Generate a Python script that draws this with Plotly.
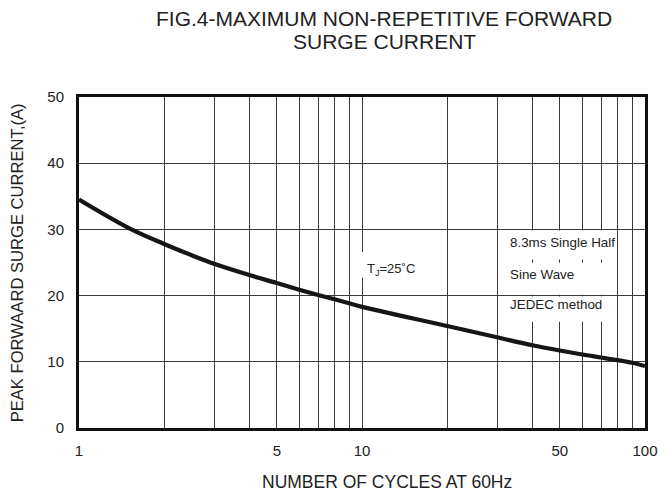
import plotly.graph_objects as go

# Data
cycles = [1, 1.5, 2, 2.5, 3, 4, 5, 6, 7, 8, 9, 10, 20, 30, 40, 50, 60, 70, 80, 90, 100]
surge_current = [34.5, 30.2, 27.8, 26.1, 24.8, 23.1, 21.9, 20.9, 20.1, 19.45, 18.85, 18.3,
                 15.4, 13.7, 12.5, 11.7, 11.1, 10.65, 10.25, 9.85, 9.35]

x_grid_vals = [1, 2, 3, 4, 5, 6, 7, 8, 9, 10, 20, 30, 40, 50, 60, 70, 80, 90, 100]
x_tick_text = ["1", "", "", "", "5", "", "", "", "", "10", "", "", "", "50", "", "", "", "", "100"]
y_tick_vals = [0, 10, 20, 30, 40, 50]
title_lines = ["FIG.4-MAXIMUM NON-REPETITIVE FORWARD", "SURGE CURRENT"]

FONT = "Liberation Sans, Arial, sans-serif"
INK = "#222222"
GRID = "#3a3a3a"

fig = go.Figure()
fig.add_trace(go.Scatter(
    x=cycles, y=surge_current, mode="lines",
    line=dict(color="#151515", width=4.2, shape="spline", smoothing=1.0),
    hoverinfo="skip", showlegend=False,
))

# white label backgrounds that interrupt the grid
boxes = [
    (31, 79, 25.45, 29.85),
    (31, 79, 20.12, 24.95),
    (31, 79, 16.05, 19.88),
    (9.6, 12.5, 22.7, 26.6),
]
for x0, x1, y0, y1 in boxes:
    fig.add_shape(type="rect", xref="x", yref="y", x0=x0, x1=x1, y0=y0, y1=y1,
                  fillcolor="white", line=dict(width=0), layer="between")

ann_font = dict(family=FONT, size=13, color=INK)
fig.add_annotation(x=1.011, y=23.9, xref="x", yref="y", text="T<sub>J</sub>=25˚C",
                   showarrow=False, xanchor="left", yanchor="middle", font=ann_font)
for txt, yy in [("8.3ms Single Half", 28.0), ("Sine Wave", 23.15), ("JEDEC method", 18.6)]:
    fig.add_annotation(x=1.516, y=yy, xref="x", yref="y", text=txt, showarrow=False,
                       xanchor="left", yanchor="middle", font=dict(family=FONT, size=13.4, color=INK))

# chart title (two lines)
for txt, shift in zip(title_lines, [79, 56]):
    fig.add_annotation(x=0.539, y=1, xref="paper", yref="paper", yshift=shift,
                       text=txt, showarrow=False, xanchor="center", yanchor="middle",
                       borderpad=0, font=dict(family=FONT, size=21, color=INK))

# axis titles
fig.add_annotation(x=-0.108, y=0.5, xref="paper", yref="paper",
                   text="PEAK FORWAARD SURGE CURRENT,(A)", textangle=-90, showarrow=False,
                   xanchor="center", yanchor="middle", font=dict(family=FONT, size=16.6, color=INK))
fig.add_annotation(x=0.544, y=0, xref="paper", yref="paper", yshift=-54,
                   text="NUMBER OF CYCLES AT 60Hz", showarrow=False,
                   xanchor="center", yanchor="middle", font=dict(family=FONT, size=17.5, color=INK))

fig.update_layout(
    width=664, height=487,
    margin=dict(l=71, r=27, t=89, b=67, autoexpand=False),
    paper_bgcolor="white", plot_bgcolor="white",
    xaxis=dict(type="log", range=[0, 2], tickmode="array", tickvals=x_grid_vals,
               ticktext=x_tick_text, showgrid=True, gridcolor=GRID, gridwidth=1,
               showline=True, linecolor="#111", linewidth=3, mirror=True,
               ticks="", ticklabelstandoff=7,
               tickfont=dict(family=FONT, size=15, color=INK), zeroline=False),
    yaxis=dict(range=[0, 50], tickmode="array", tickvals=y_tick_vals,
               showgrid=True, gridcolor=GRID, gridwidth=1,
               showline=True, linecolor="#111", linewidth=3, mirror=True,
               ticks="", ticklabelstandoff=9,
               tickfont=dict(family=FONT, size=15, color=INK), zeroline=False),
    showlegend=False,
)

fig.write_html("out.html")
